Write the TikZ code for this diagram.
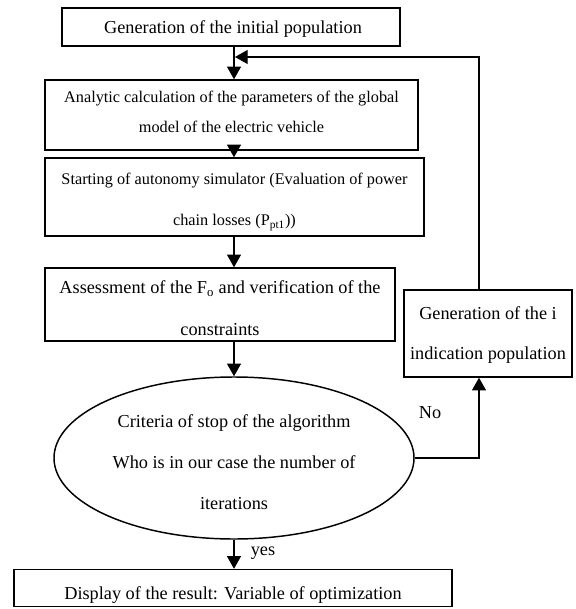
\documentclass[tikz,border=0pt]{standalone}
\usepackage{fontspec}
\setmainfont{Liberation Serif}
\usetikzlibrary{arrows.meta,shapes.geometric,calc}
\begin{document}
\begin{tikzpicture}[x=0.75pt,y=-0.75pt,
  box/.style={draw,line width=1.1pt,rectangle,inner sep=0pt},
  txt/.style={align=center,inner sep=0pt,font=\fontsize{13.7}{30.5}\selectfont},
  arr/.style={line width=0.9pt,-{Triangle[length=9.5pt,width=10.5pt]}},
  ln/.style={line width=0.9pt}]
\useasboundingbox (0,0) rectangle (575,609);
% boxes
\node[box,minimum width=338*0.75pt,minimum height=38*0.75pt] (b1) at (231,27) {};
\node[txt] (t1) at (233,29) {Generation of the initial population};
\node[box,minimum width=373*0.75pt,minimum height=70*0.75pt] (b2) at (231.5,115) {};
\node[txt,font=\fontsize{12.2}{22.5}\selectfont] (t2) at (231.5,112) {Analytic calculation of the parameters of the global\\model of the electric vehicle};
\node[box,minimum width=379*0.75pt,minimum height=78*0.75pt] (b3) at (234.5,197) {};
\node[txt,font=\fontsize{12.2}{30.75}\selectfont] (t3) at (234.5,202) {Starting of autonomy simulator (Evaluation of power\\chain losses (P\textsubscript{pt1}))};
\node[box,minimum width=350*0.75pt,minimum height=73*0.75pt] (b4) at (220,304.5) {};
\node[txt,font=\fontsize{13.7}{31}\selectfont] (t4) at (220,308) {Assessment of the F\textsubscript{o} and verification of the\\constraints};
\node[box,minimum width=168*0.75pt,minimum height=87*0.75pt] (rb) at (488,333.5) {};
\node[txt] (t5) at (488,335) {Generation of the i\\indication population};
\node[box,draw,ellipse,minimum width=360*0.75pt,minimum height=162*0.75pt] (el) at (234,458) {};
\node[txt] (t6) at (234,462) {Criteria of stop of the algorithm\\Who is in our case the number of\\iterations};
\node[box,minimum width=438*0.75pt,minimum height=37*0.75pt] (b5) at (233,588) {};
\node[txt] (t7) at (233,595) {Display of the result: Variable of optimization};
% labels
\node[txt] (no) at (430,413) {No};
\node[txt] (yes) at (263,553) {yes};
% helper coordinates
\coordinate (cx) at (234,0);
\coordinate (fx) at (479,0);
\coordinate (tip) at (235,57);
% connectors
\draw[arr] (b1.south -| cx) -- (b2.north -| cx);
\draw[arr] (b2.south -| cx) -- (b3.north -| cx);
\draw[arr] (b3.south -| cx) -- (b4.north -| cx);
\draw[arr] (b4.south -| cx) -- (el.north -| cx);
\draw[arr] (el.south -| cx) -- (b5.north -| cx);
\draw[arr] (el.east) -| (rb.south -| fx);
\draw[arr] (rb.north -| fx) |- (tip);
\end{tikzpicture}
\end{document}
